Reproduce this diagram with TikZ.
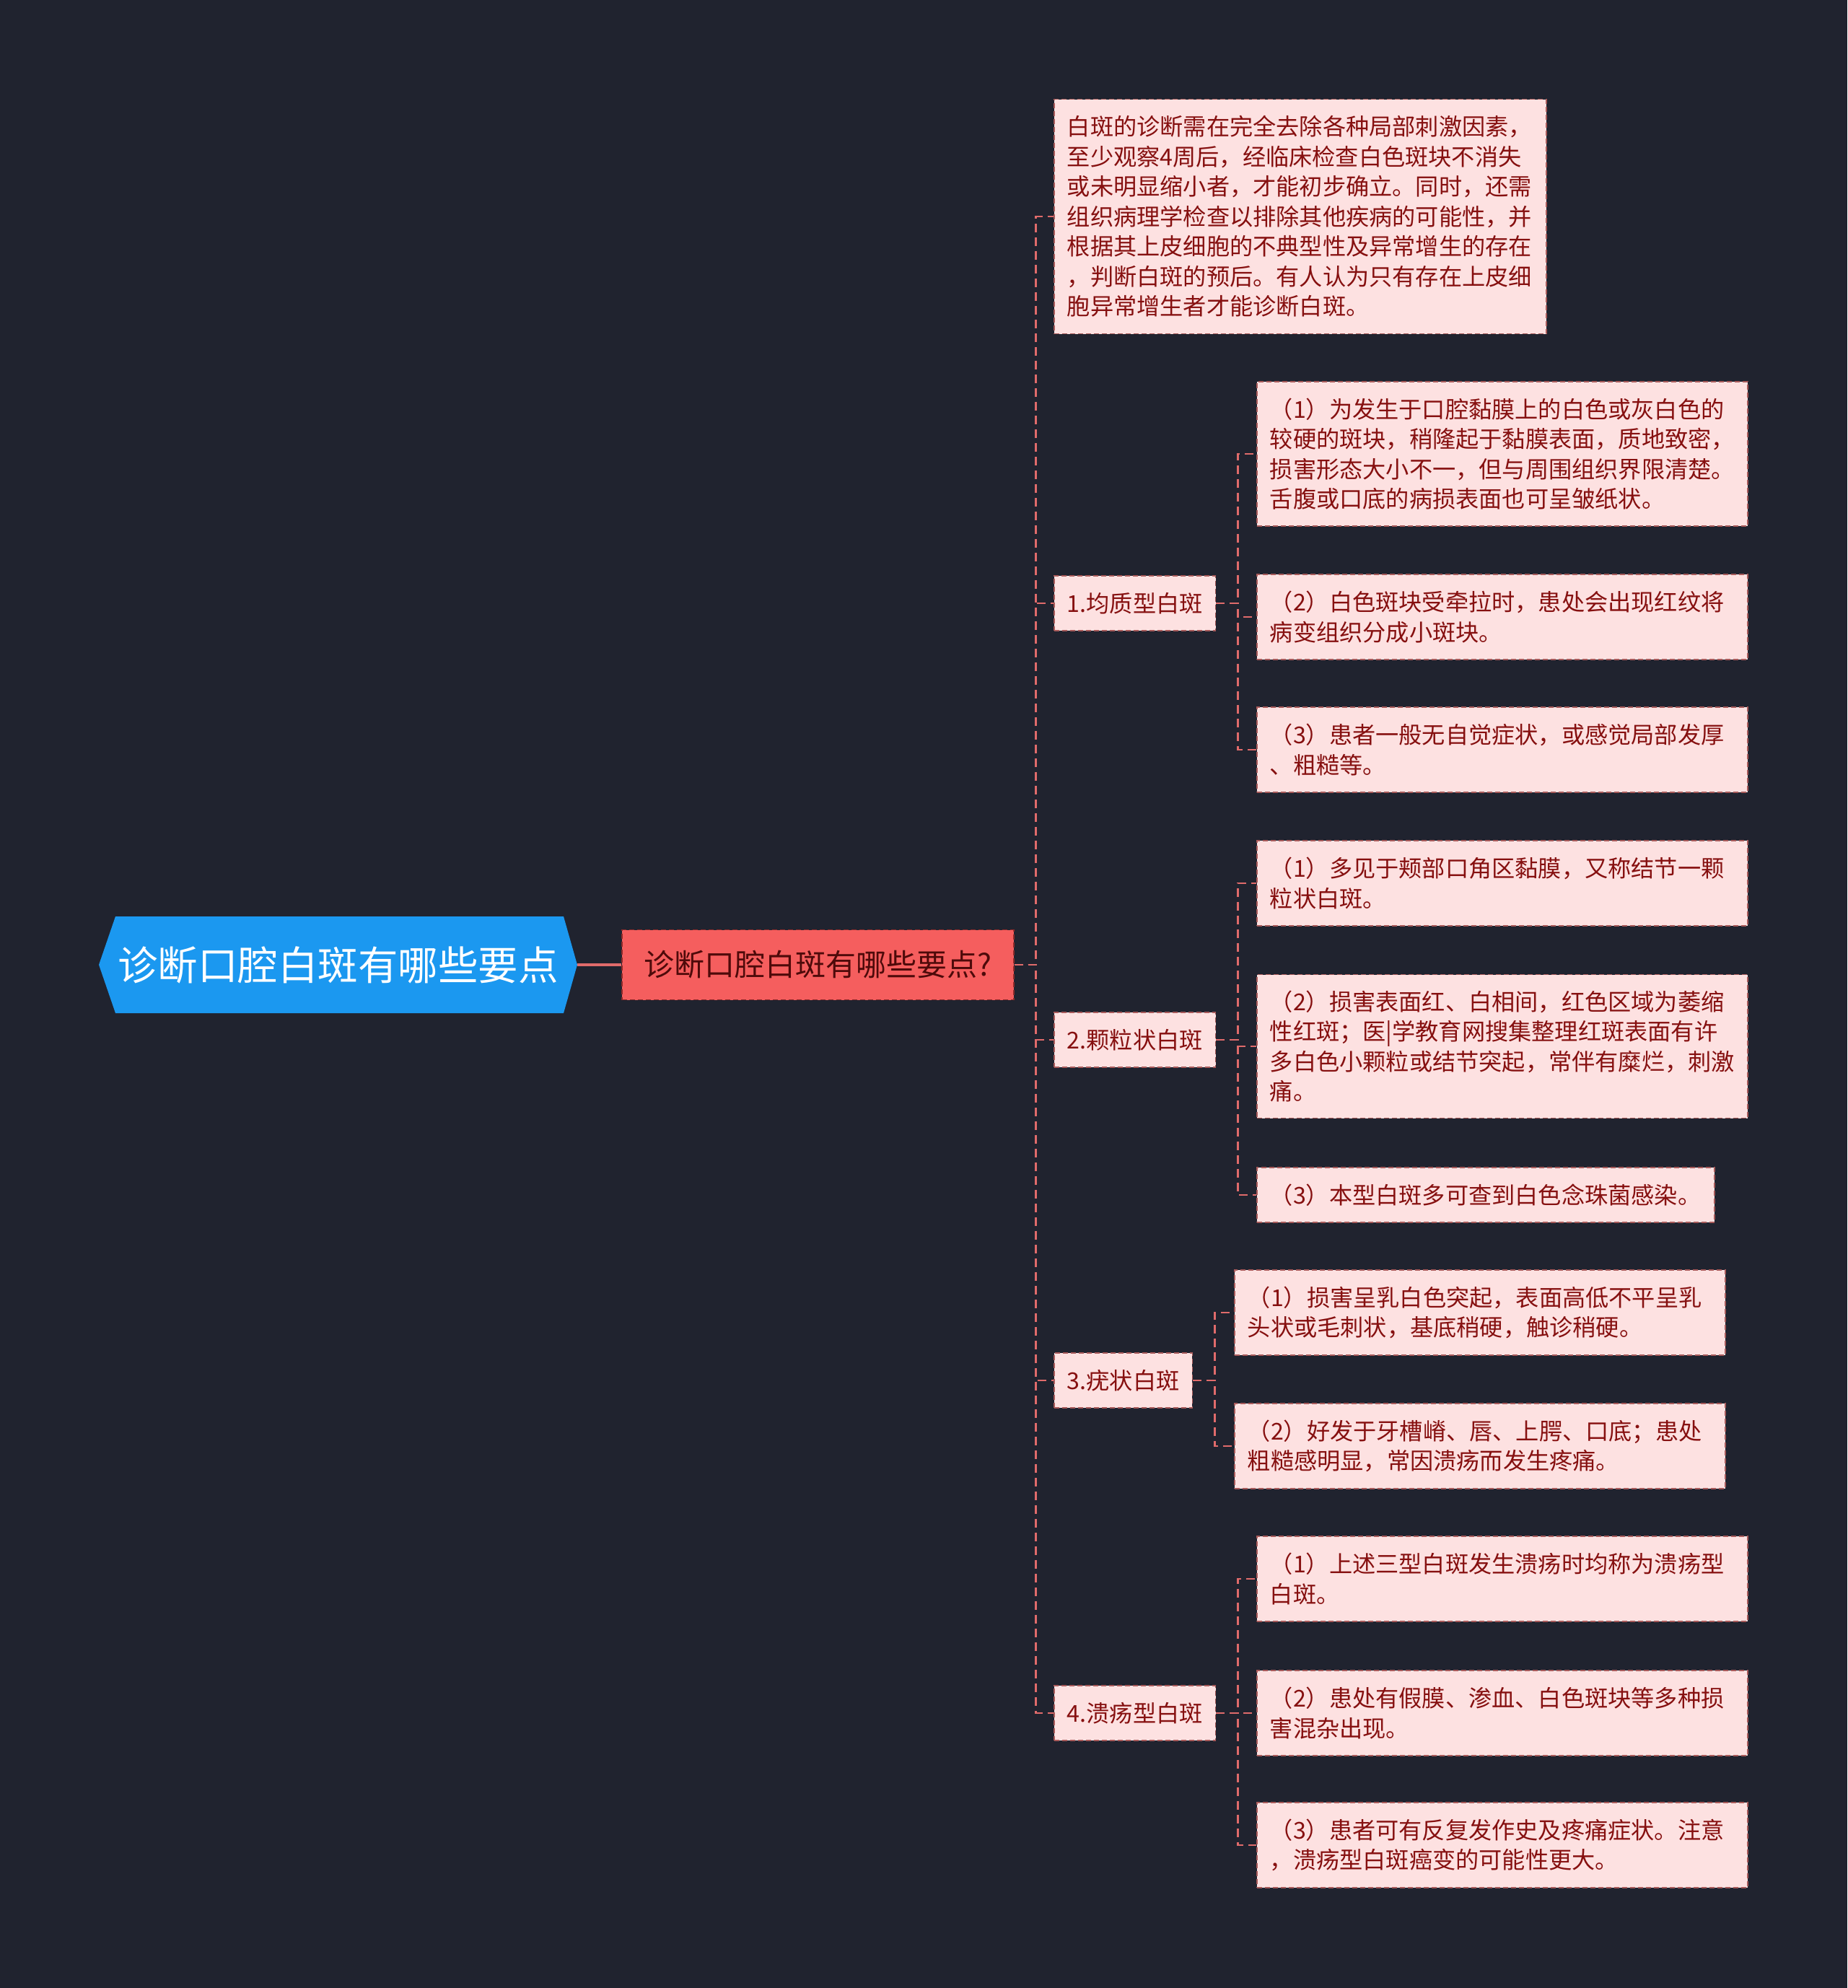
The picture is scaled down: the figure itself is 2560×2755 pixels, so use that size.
\documentclass[tikz,border=0pt]{standalone}
\usepackage{fontspec}
\setmainfont{Noto Sans CJK SC}
\usetikzlibrary{calc}
\definecolor{bgc}{HTML}{20232F}
\definecolor{rootblue}{HTML}{1B98F0}
\definecolor{mainfill}{HTML}{F55E5E}
\definecolor{mainborder}{HTML}{8E2A2A}
\definecolor{maintext}{HTML}{4E0A0A}
\definecolor{leaffill}{HTML}{FDE1E1}
\definecolor{leafborder}{HTML}{A85A5A}
\definecolor{leaftext}{HTML}{861010}
\definecolor{connc}{HTML}{E06B6B}
\tikzset{
  leafbox/.style={draw=leafborder, dash pattern=on 7pt off 4pt, line width=1.6pt,
    fill=leaffill, text=leaftext, font=\fontsize{32.2}{41.5}\selectfont,
    align=left, anchor=west, inner xsep=18pt, inner ysep=0pt},
  catbox/.style={leafbox, minimum height=76pt},
  mainbox/.style={draw=mainborder, dash pattern=on 7pt off 4pt, line width=1.6pt,
    fill=mainfill, text=maintext, font=\fontsize{42}{50}\selectfont,
    anchor=west, inner xsep=23pt, inner ysep=0pt, minimum height=97pt, minimum width=543pt},
  conn/.style={draw=connc, line width=2.6pt, dash pattern=on 12pt off 7pt},
  rootconn/.style={draw=connc, line width=4pt}
}
\begin{document}
\begin{tikzpicture}[x=1pt,y=-1pt]
\fill[bgc] (0,0) rectangle (2560,2755);
\useasboundingbox (0,0) rectangle (2560,2755);

% root hexagon
\fill[rootblue] (137,1337) -- (160,1270) -- (781,1270) -- (800,1337) -- (781,1404) -- (160,1404) -- cycle;
\node (root) [text=white, font=\fontsize{55.5}{66}\selectfont, minimum width=663pt, minimum height=134pt, inner sep=0pt] at (468.5,1337) {诊断口腔白斑有哪些要点};

% main node
\node (main) [mainbox] at (861,1337) {诊断口腔白斑有哪些要点?};

% top text box
\node (b0) [leafbox, text width=646pt, minimum height=325pt] at (1460,300) {白斑的诊断需在完全去除各种局部刺激因素，\\至少观察4周后，经临床检查白色斑块不消失\\或未明显缩小者，才能初步确立。同时，还需\\组织病理学检查以排除其他疾病的可能性，并\\根据其上皮细胞的不典型性及异常增生的存在\\，判断白斑的预后。有人认为只有存在上皮细\\胞异常增生者才能诊断白斑。};

% categories
\node (g1) [catbox] at (1460,836) {1.均质型白斑};
\node (g2) [catbox] at (1460,1441) {2.颗粒状白斑};
\node (g3) [catbox] at (1460,1913) {3.疣状白斑};
\node (g4) [catbox] at (1460,2374) {4.溃疡型白斑};

% group 1
\node (c11) [leafbox, text width=644pt, minimum height=200pt] at (1741,629) {（1）为发生于口腔黏膜上的白色或灰白色的\\较硬的斑块，稍隆起于黏膜表面，质地致密，\\损害形态大小不一，但与周围组织界限清楚。\\舌腹或口底的病损表面也可呈皱纸状。};
\node (c12) [leafbox, text width=644pt, minimum height=118pt] at (1741,855) {（2）白色斑块受牵拉时，患处会出现红纹将\\病变组织分成小斑块。};
\node (c13) [leafbox, text width=644pt, minimum height=118pt] at (1741,1039) {（3）患者一般无自觉症状，或感觉局部发厚\\、粗糙等。};

% group 2
\node (c21) [leafbox, text width=644pt, minimum height=118pt] at (1741,1224) {（1）多见于颊部口角区黏膜，又称结节一颗\\粒状白斑。};
\node (c22) [leafbox, text width=644pt, minimum height=199pt] at (1741,1450) {（2）损害表面红、白相间，红色区域为萎缩\\性红斑；医|学教育网搜集整理红斑表面有许\\多白色小颗粒或结节突起，常伴有糜烂，刺激\\痛。};
\node (c23) [leafbox, text width=614pt, inner xsep=10pt, minimum height=76pt] at (1741,1656) {\hspace*{8pt}（3）本型白斑多可查到白色念珠菌感染。};

% group 3
\node (c31) [leafbox, text width=644pt, minimum height=118pt] at (1710,1819) {（1）损害呈乳白色突起，表面高低不平呈乳\\头状或毛刺状，基底稍硬，触诊稍硬。};
\node (c32) [leafbox, text width=644pt, minimum height=118pt] at (1710,2004) {（2）好发于牙槽嵴、唇、上腭、口底；患处\\粗糙感明显，常因溃疡而发生疼痛。};

% group 4
\node (c41) [leafbox, text width=644pt, minimum height=118pt] at (1741,2188) {（1）上述三型白斑发生溃疡时均称为溃疡型\\白斑。};
\node (c42) [leafbox, text width=644pt, minimum height=118pt] at (1741,2374) {（2）患处有假膜、渗血、白色斑块等多种损\\害混杂出现。};
\node (c43) [leafbox, text width=644pt, minimum height=118pt] at (1741,2557) {（3）患者可有反复发作史及疼痛症状。注意\\，溃疡型白斑癌变的可能性更大。};

% connectors
\draw[rootconn] (root.east) -- (main.west);
\foreach \t in {b0,g1,g2,g3,g4}
  \draw[conn] (main.east) -- ++(30,0) |- (\t.west);
\foreach \t in {c11,c12,c13}
  \draw[conn] (g1.east) -- ++(30,0) |- (\t.west);
\foreach \t in {c21,c22,c23}
  \draw[conn] (g2.east) -- ++(30,0) |- (\t.west);
\foreach \t in {c31,c32}
  \draw[conn] (g3.east) -- ++(30,0) |- (\t.west);
\foreach \t in {c41,c42,c43}
  \draw[conn] (g4.east) -- ++(30,0) |- (\t.west);
\end{tikzpicture}
\end{document}
